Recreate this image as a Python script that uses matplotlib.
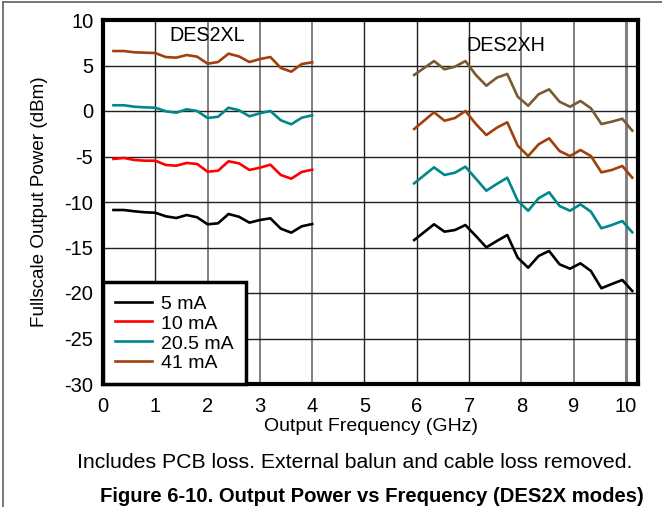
import matplotlib
matplotlib.use("Agg")
import matplotlib.pyplot as plt
from matplotlib.lines import Line2D

plt.rcParams['font.family'] = ['Liberation Sans', 'DejaVu Sans']
plt.rcParams['axes.unicode_minus'] = False

# ---------------- data ----------------
freq_xl = [0.2, 0.4, 0.6, 0.8, 1.0, 1.2, 1.4, 1.6, 1.8, 2.0,
           2.2, 2.4, 2.6, 2.8, 3.0, 3.2, 3.4, 3.6, 3.8, 4.0]
xl_5mA = [-10.88, -10.88, -11.02, -11.13, -11.18, -11.57, -11.76, -11.43, -11.68, -12.45,
          -12.34, -11.32, -11.62, -12.27, -11.98, -11.79, -12.93, -13.37, -12.67, -12.42]
xl_10mA = [-5.27, -5.16, -5.38, -5.46, -5.46, -5.93, -6.01, -5.71, -5.82, -6.67,
           -6.56, -5.53, -5.75, -6.48, -6.23, -5.90, -7.03, -7.44, -6.70, -6.45]
xl_20mA = [0.63, 0.63, 0.47, 0.40, 0.36, -0.03, -0.19, 0.19, 0.0, -0.77,
           -0.63, 0.36, 0.08, -0.58, -0.25, 0.0, -1.02, -1.46, -0.74, -0.47]
xl_41mA = [6.59, 6.59, 6.45, 6.41, 6.37, 5.93, 5.86, 6.15, 5.97, 5.20,
           5.38, 6.30, 6.00, 5.38, 5.71, 5.93, 4.73, 4.32, 5.16, 5.35]

freq_xh = [5.95, 6.33, 6.53, 6.73, 6.93, 7.13, 7.33, 7.53, 7.73, 7.93,
           8.13, 8.33, 8.53, 8.73, 8.93, 9.13, 9.33, 9.53, 9.73, 9.93, 10.12]
xh_black = [-14.18, -12.45, -13.26, -13.08, -12.53, -13.74, -14.98, -14.29, -13.63, -16.12,
            -17.22, -15.93, -15.38, -16.85, -17.33, -16.74, -17.58, -19.48, -19.01, -18.57, -19.78]
xh_teal = [-7.95, -6.19, -7.03, -6.78, -6.12, -7.44, -8.76, -8.02, -7.33, -9.86,
           -10.96, -9.59, -8.93, -10.44, -10.96, -10.26, -11.07, -12.89, -12.53, -12.09, -13.33]
xh_orange = [-1.98, -0.14, -1.07, -0.77, 0.0, -1.43, -2.64, -1.84, -1.24, -3.81,
             -4.95, -3.66, -3.00, -4.40, -4.95, -4.29, -4.95, -6.74, -6.48, -6.04, -7.33]
xh_olive = [3.96, 5.49, 4.58, 4.87, 5.49, 3.96, 2.78, 3.66, 4.07, 1.57,
            0.58, 1.84, 2.38, 1.02, 0.47, 1.10, 0.30, -1.43, -1.17, -0.85, -2.16]

legend_labels = ['5 mA', '10 mA', '20.5 mA', '41 mA']
xticks = list(range(0, 11))
yticks = list(range(-30, 11, 5))

C_BLACK = '#000000'
C_RED = '#ff0000'
C_TEAL = '#00878a'
C_ORANGE = '#a0400c'
C_OLIVE = '#7a5a30'

# ---------------- figure ----------------
fig = plt.figure(figsize=(6.62, 5.07), dpi=100)
ax = fig.add_axes([103/662, 1-384/507, (638-103)/662, (384-20)/507])

lw = 1.9
ax.plot(freq_xl, xl_5mA, color=C_BLACK, lw=lw, label=legend_labels[0])
ax.plot(freq_xl, xl_10mA, color=C_RED, lw=lw, label=legend_labels[1])
ax.plot(freq_xl, xl_20mA, color=C_TEAL, lw=lw, label=legend_labels[2])
ax.plot(freq_xl, xl_41mA, color=C_ORANGE, lw=lw, label=legend_labels[3])

ax.plot(freq_xh, xh_black, color=C_BLACK, lw=lw)
ax.plot(freq_xh, xh_teal, color=C_TEAL, lw=lw)
ax.plot(freq_xh, xh_orange, color=C_ORANGE, lw=lw)
ax.plot(freq_xh, xh_olive, color=C_OLIVE, lw=lw)

ax.set_xlim(0, 10.23)
ax.set_ylim(-30, 10)
ax.set_xticks(xticks)
ax.set_yticks(yticks)
ax.tick_params(length=0, labelsize=14.5)
ax.tick_params(axis='x', pad=9)
ax.tick_params(axis='y', pad=7)

ax.grid(True, color='#202020', lw=1.0)
ax.set_axisbelow(True)
fig.canvas.draw()
gray_x = {2, 3, 4, 8, 9, 10}
for t, gl in zip(xticks, ax.xaxis.get_gridlines()):
    if t in gray_x:
        gl.set_color('#808080')
        gl.set_linewidth(1.4 if t != 10 else 2.2)

for s in ax.spines.values():
    s.set_linewidth(3)
    s.set_color('black')

ax.set_xlabel('Output Frequency (GHz)', fontsize=14, labelpad=2)
ax.set_ylabel('Fullscale Output Power (dBm)', fontsize=13.6, labelpad=12)

ax.text(1.99, 8.3, 'DES2XL', fontsize=14.2, ha='center', va='center')
ax.text(7.7, 7.25, 'DES2XH', fontsize=14.2, ha='center', va='center')

leg = ax.legend(loc='lower left', fontsize=14, frameon=True, fancybox=False,
                borderpad=0.6, handlelength=1.9, handleheight=1.05,
                labelspacing=0.0, handletextpad=0.5, borderaxespad=0.0)
leg.get_frame().set_edgecolor('black')
leg.get_frame().set_linewidth(2.5)
leg.get_frame().set_alpha(1)

fig.text(355/662, 1-462/507, 'Includes PCB loss. External balun and cable loss removed.',
         fontsize=15.3, ha='center', va='center')
fig.text(372/662, 1-506/507, 'Figure 6-10. Output Power vs Frequency (DES2X modes)',
         fontsize=14.6, ha='center', va='bottom', fontweight='bold')

# outer page border (top and left)
fig.add_artist(Line2D([3/662, 1], [1-2/507, 1-2/507], transform=fig.transFigure,
                      color='#606060', lw=1.2))
fig.add_artist(Line2D([3/662, 3/662], [0, 1-2/507], transform=fig.transFigure,
                      color='#606060', lw=1.2))

fig.savefig('out.png', dpi=100)
